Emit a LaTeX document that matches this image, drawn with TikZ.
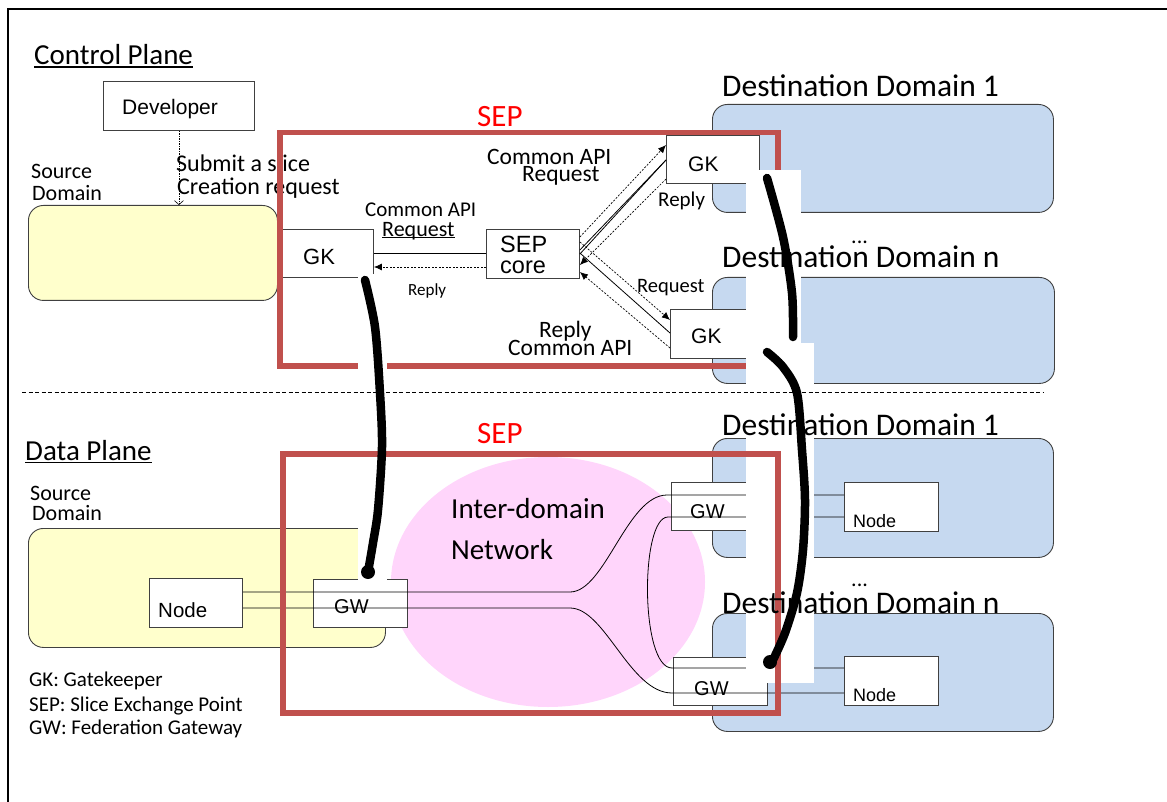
\documentclass[tikz,border=0pt]{standalone}
\usepackage{fontspec}
\setmainfont{Carlito}
\newfontfamily\arial{Liberation Sans}
\usetikzlibrary{arrows.meta}

\definecolor{sepred}{RGB}{192,80,77}
\definecolor{srcyellow}{RGB}{255,255,204}
\definecolor{dstblue}{RGB}{198,217,240}
\definecolor{netpink}{RGB}{255,213,251}
\definecolor{boxline}{RGB}{64,64,64}
\definecolor{seplabel}{RGB}{255,0,0}

\newcommand\fsz[1]{\fontsize{#1}{#1}\selectfont}
% text with a rule under it: depth, thickness, text
\newcommand\ulined[3]{\setbox0\hbox{#3}\rlap{\rule[-#1]{\wd0}{#2}}\box0}

\tikzset{
  box/.style={draw=boxline, line width=0.9pt, fill=white, inner sep=0pt, anchor=north west},
  dom/.style={draw=boxline, line width=0.9pt, rounded corners=15pt, inner sep=0pt, anchor=north west},
  sepframe/.style={draw=sepred, line width=5.5pt, inner sep=0pt, anchor=north west},
  lbl/.style={anchor=base west, inner sep=0pt},
  link/.style={line width=0.8pt, black},
  msg/.style={line width=0.7pt, dash pattern=on 2pt off 1.5pt, -{Latex[length=8pt,width=7pt]}},
  devreq/.style={line width=0.6pt, dash pattern=on 1.5pt off 1pt, -{Straight Barb[length=4pt,width=9pt]}},
  handle/.style={line width=8.5pt, line cap=round, line join=round},
  patch/.style={fill=white},
}

\begin{document}
\begin{tikzpicture}[x=1pt,y=-1pt]
\useasboundingbox (0,0) rectangle (1167,802);

% outer frame
\draw[line width=2pt] (8,802) -- (8,9) -- (1167,9);

% domains
\node[dom, fill=srcyellow, minimum width=249pt, minimum height=95pt] (srcC) at (28,205) {};
\node[dom, fill=srcyellow, minimum width=357pt, minimum height=119pt] (srcD) at (28,528) {};
\node[dom, fill=dstblue, minimum width=341pt, minimum height=108pt] (dst1C) at (712,104) {};
\node[dom, fill=dstblue, minimum width=342pt, minimum height=106pt] (dstnC) at (712,277) {};
\node[dom, fill=dstblue, minimum width=341pt, minimum height=119pt] (dst1D) at (712,438) {};
\node[dom, fill=dstblue, minimum width=341pt, minimum height=118pt] (dstnD) at (712,613) {};

% inter-domain network
\fill[netpink] (548,582) ellipse [x radius=157pt, y radius=125pt];

% boxes
\node[box, minimum width=151pt, minimum height=49pt] (dev) at (103,81) {};
\node[box, minimum width=93pt, minimum height=48pt] (gkL) at (280,229) {};
\node[box, minimum width=93pt, minimum height=49pt] (core) at (486,229) {};
\node[box, minimum width=93pt, minimum height=48pt] (gkT) at (666,135) {};
\node[box, minimum width=93pt, minimum height=49pt] (gkB) at (670,309) {};
\node[box, minimum width=93pt, minimum height=49pt] (srcnode) at (149,578) {};
\node[box, minimum width=94pt, minimum height=48pt] (srcgw) at (313,579) {};
\node[box, minimum width=94pt, minimum height=48pt] (gw1) at (671,482) {};
\node[box, minimum width=94pt, minimum height=48pt] (gwn) at (673,657) {};
\node[box, minimum width=94pt, minimum height=49pt] (node1) at (844,482) {};
\node[box, minimum width=94pt, minimum height=49pt] (noden) at (844,656) {};

% data plane links
\draw[link] (srcnode.east |- 0,592) -- (570,592)
  .. controls (605,592) and (627,495) .. (667,495) -- (node1.west |- 0,495);
\draw[link] (srcnode.east |- 0,608) -- (570,608)
  .. controls (605,608) and (630,693) .. (672,693) -- (noden.west |- 0,693);
\draw[link] (node1.west |- 0,517) -- (668,517)
  .. controls (640,517) and (640,668) .. (672,668) -- (noden.west |- 0,668);

% developer request
\draw[devreq] (dev.south) -- (dev.south |- srcC.north);

% labels lying under the control SEP frame
\node[lbl, font=\fsz{24}] (sub1) at (176,172) {Submit a slice};
\node[lbl, font=\fsz{24}] (sub2) at (177,195) {Creation request};
\node[lbl, font=\fsz{31}, text=seplabel] (sepC) at (477,127) {SEP};

% control SEP frame
\node[sepframe, minimum width=498pt, minimum height=233pt] (sepCbox) at (277,130) {};

% control plane messages
\draw[link] (core.west |- 0,253) -- (gkL.east |- 0,253);
\draw[msg] (core.west |- 0,267) -- (gkL.east |- 0,267);
\draw[msg] (core.east |- 0,237) -- (gkT.west |- 0,145);
\draw[link] (core.east |- 0,250) -- (gkT.west |- 0,160);
\draw[link] (core.east |- 0,254) -- (gkT.west |- 0,160);
\draw[msg] (gkT.west |- 0,179) -- (core.east |- 0,265);
\draw[msg] (core.east |- 0,242) -- (gkB.west |- 0,320);
\draw[link] (core.east |- 0,253) -- (gkB.west |- 0,333);
\draw[msg] (gkB.west |- 0,348) -- (core.east |- 0,272);

% white cut-outs behind the handles
\fill[patch] (358,274) rectangle (387,582);
\fill[patch] (746,170) rectangle (801,343);
\fill[patch] (746,343) rectangle (814,683);

% data SEP frame
\node[sepframe, minimum width=495pt, minimum height=259pt] (sepDbox) at (280,451) {};
\node[lbl, font=\fsz{31}, text=seplabel] (sepD) at (477,443) {SEP};

% plane separator
\draw[line width=0.7pt, dash pattern=on 4pt off 2.5pt] (22,392) -- (1043,392);

% titles and captions
\node[lbl, font=\fsz{29}] (ctitle) at (34,65) {\ulined{3pt}{1.5pt}{Control Plane}};
\node[lbl, font=\fsz{29}] (dtitle) at (25,460) {\ulined{3pt}{1.5pt}{Data Plane}};
\node[lbl, font=\fsz{22}] (srcC1) at (31,179) {Source};
\node[lbl, font=\fsz{22}] (srcC2) at (32,201) {Domain};
\node[lbl, font=\fsz{22}] (srcD1) at (30,500) {Source};
\node[lbl, font=\fsz{22}] (srcD2) at (32,520) {Domain};

\node[lbl, font=\fsz{31.5}] (d1C) at (722,97) {Destination Domain 1};
\node[lbl, font=\fsz{31.5}] (dnC) at (722,268) {Destination Domain n};
\node[lbl, font=\fsz{31.5}] (d1D) at (722,435) {Destination Domain 1};
\node[lbl, font=\fsz{31.5}] (dnD) at (722,613) {Destination Domain n};
\node[lbl, font=\fsz{22}] (dotsC) at (851,244) {...};
\node[lbl, font=\fsz{22}] (dotsD) at (851,586) {...};

\node[lbl, font=\fsz{21}] (reqL1) at (365,217) {Common API};
\node[lbl, font=\fsz{22}] (reqL2) at (382,237) {\ulined{1.5pt}{1.1pt}{Request}};
\node[lbl, font=\fsz{17}] (repL) at (408,295) {Reply};
\node[lbl, font=\fsz{23.5}] (reqT1) at (487,165) {Common API};
\node[lbl, font=\fsz{23.5}] (reqT2) at (522,182) {Request};
\node[lbl, font=\fsz{21}] (repT) at (658,207) {Reply};
\node[lbl, font=\fsz{20.5}] (reqB) at (637,293) {Request};
\node[lbl, font=\fsz{23.5}] (repB1) at (539,337) {Reply};
\node[lbl, font=\fsz{23.5}] (repB2) at (508,355) {Common API};

\node[lbl, font=\fsz{29}] (net1) at (451,518) {Inter-domain};
\node[lbl, font=\fsz{29}] (net2) at (451,559) {Network};

\node[lbl, font=\fsz{21}] (leg1) at (29,686) {GK: Gatekeeper};
\node[lbl, font=\fsz{21}] (leg2) at (29,711) {SEP: Slice Exchange Point};
\node[lbl, font=\fsz{21}] (leg3) at (29,734) {GW: Federation Gateway};

% box labels
\node[lbl, font=\arial\fsz{21}] (devtxt) at (122,115) {Developer};
\node[lbl, font=\arial\fsz{22}] (gkLtxt) at (303,265) {GK};
\node[lbl, font=\arial\fsz{23.5}] (coretxt1) at (500,253) {SEP};
\node[lbl, font=\arial\fsz{23.5}] (coretxt2) at (500,274) {core};
\node[lbl, font=\arial\fsz{21}] (gkTtxt) at (688,172) {GK};
\node[lbl, font=\arial\fsz{21}] (gkBtxt) at (691,343) {GK};
\node[lbl, font=\arial\fsz{20.5}] (srcnodetxt) at (158,617) {Node};
\node[lbl, font=\arial\fsz{20}] (srcgwtxt) at (334,613) {GW};
\node[lbl, font=\arial\fsz{20}] (gw1txt) at (690,518) {GW};
\node[lbl, font=\arial\fsz{20}] (gwntxt) at (694,695) {GW};
\node[lbl, font=\arial\fsz{18}] (node1txt) at (853,527) {Node};
\node[lbl, font=\arial\fsz{18}] (nodentxt) at (853,701) {Node};

% handles linking the planes
\coordinate (hA0) at (365,280);
\coordinate (hA1) at (368,572);
\draw[handle] plot[smooth] coordinates {(hA0) (375,327) (380,393) (382,447) (378,510) (373,543) (hA1)};
\fill (hA1) circle (7pt);
\coordinate (hB0) at (767,178);
\coordinate (hB1) at (793,337);
\draw[handle] plot[smooth] coordinates {(hB0) (783,237) (792,293) (hB1)};
\coordinate (hC0) at (767,352);
\coordinate (hC1) at (772,662);
\draw[handle] plot[smooth] coordinates {(hC0) (783,367) (797,393) (802,450) (805,500) (803,550) (797,593) (785,633) (hC1)};
\fill (770,662) circle (7pt);
\end{tikzpicture}
\end{document}
